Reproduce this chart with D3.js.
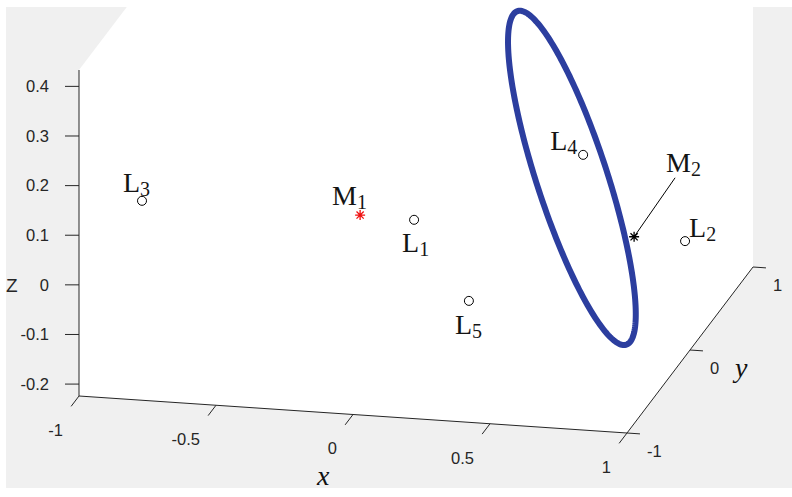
<!DOCTYPE html>
<html><head><meta charset="utf-8">
<script src="https://cdn.jsdelivr.net/npm/d3@7"></script>
<style>html,body{margin:0;padding:0;background:#fff;} svg{display:block}</style>
</head><body>
<svg id="chart" width="792" height="497"></svg>
<script>
// ---------------- data ----------------
const xLimits = [-1, 1];
const yLimits = [-1, 1];
const zLimits = [-0.224, 0.433];
const xTicks = [-1, -0.5, 0, 0.5, 1];
const xTickLabels = ["-1", "-0.5", "0", "0.5", "1"];
const yTicks = [-1, 0, 1];
const yTickLabels = ["-1", "0", "1"];
const zTicks = [-0.2, -0.1, 0, 0.1, 0.2, 0.3, 0.4];
const zTickLabels = ["-0.2", "-0.1", "0", "0.1", "0.2", "0.3", "0.4"];

const pointNames = ["L1", "L2", "L3", "L4", "L5", "M1", "M2"];
const pointX = [0.039, 0.913, -0.885, 0.541, 0.354, -0.089, 0.773];
const pointY = [-0.2, 0.3, -0.5, 0.3, -0.7, -0.5, 0.1];
const pointZ = [0.036, -0.058, 0.090, 0.102, -0.032, 0.091, -0.021];
const pointType = ["landmark", "landmark", "landmark", "landmark", "landmark", "mic1", "mic2"];

const ellipseCenter = [0.500, 0.300, 0.054];
const ellipseAxisA = [0.259, -0.300, -0.277];
const ellipseAxisB = [0.1285, 0.0286, 0.0];

// ---------------- layout / style ----------------
const W = 792, H = 497;
const origin = [79, 396];
const ex = [548, 37], ey = [126, -166], ez = [0, -326];
const axisColor = "#262626";
const labelOffsets = {
  L1: [-12, 32], L2: [4, -4], L3: [-19, -9], L4: [-33, -5],
  L5: [-14, 33], M1: [-28, -10], M2: [32, -65]
};
const leaderOffset = [41, -59];

const sx = d3.scaleLinear().domain(xLimits).range([0, 1]);
const sy = d3.scaleLinear().domain(yLimits).range([0, 1]);
const sz = d3.scaleLinear().domain(zLimits).range([0, 1]);
function P(x, y, z) {
  const u = sx(x), v = sy(y), w = sz(z);
  return [origin[0] + u * ex[0] + v * ey[0] + w * ez[0],
          origin[1] + u * ex[1] + v * ey[1] + w * ez[1]];
}

const svg = d3.select("#chart");
svg.append("rect").attr("width", W).attr("height", H).attr("fill", "#fff");
svg.append("defs").append("clipPath").attr("id", "fig")
  .append("rect").attr("x", 6).attr("y", 7).attr("width", W - 6).attr("height", 481);
svg.append("rect").attr("x", 6).attr("y", 7).attr("width", W - 6).attr("height", 481).attr("fill", "#f0f0f0");

// white box hull
const [x0, x1] = xLimits, [y0, y1] = yLimits, [z0, z1] = zLimits;
const hull = [P(x0, y0, z0), P(x1, y0, z0), P(x1, y1, z0), P(x1, y1, z1), P(x0, y1, z1), P(x0, y0, z1)];
svg.append("polygon").attr("clip-path", "url(#fig)")
  .attr("points", hull.map(p => p.join(",")).join(" "))
  .attr("fill", "#ffffff");

const g = svg.append("g");
function seg(a, b, color, w) {
  g.append("line").attr("x1", a[0]).attr("y1", a[1]).attr("x2", b[0]).attr("y2", b[1])
    .attr("stroke", color).attr("stroke-width", w);
}
// axis lines
seg(P(x0, y0, z0), P(x1, y0, z0), axisColor, 1);
seg(P(x1, y0, z0), P(x1, y1, z0), axisColor, 1);
seg(P(x0, y0, z0), P(x0, y0, z1), axisColor, 1);

const tickLen = 13;
function unit(v) { const n = Math.hypot(v[0], v[1]); return [v[0] / n, v[1] / n]; }
const dNegY = unit([-ey[0], -ey[1]]);
const dPosX = unit(ex);
const dNegX = [-1, 0];
const tickFont = "'Liberation Sans', Arial, sans-serif";
const tickSize = 16.5;

xTicks.forEach((t, i) => {
  const p = P(t, y0, z0);
  seg(p, [p[0] + dNegY[0] * tickLen, p[1] + dNegY[1] * tickLen], axisColor, 1);
  g.append("text").attr("x", p[0] - 16).attr("y", p[1] + 34).attr("dy", "0.35em")
    .attr("text-anchor", "end").attr("font-family", tickFont).attr("font-size", tickSize)
    .attr("fill", axisColor).text(xTickLabels[i]);
});
yTicks.forEach((t, i) => {
  const p = P(x1, t, z0);
  seg(p, [p[0] + dPosX[0] * tickLen, p[1] + dPosX[1] * tickLen], axisColor, 1);
  g.append("text").attr("x", p[0] + 20).attr("y", p[1] + 18).attr("dy", "0.35em")
    .attr("text-anchor", "start").attr("font-family", tickFont).attr("font-size", tickSize)
    .attr("fill", axisColor).text(yTickLabels[i]);
});
zTicks.forEach((t, i) => {
  const p = P(x0, y0, t);
  seg(p, [p[0] + dNegX[0] * 14, p[1] + dNegX[1] * 14], axisColor, 1);
  g.append("text").attr("x", p[0] - 30).attr("y", p[1]).attr("dy", "0.35em")
    .attr("text-anchor", "end").attr("font-family", tickFont).attr("font-size", tickSize)
    .attr("fill", axisColor).text(zTickLabels[i]);
});

// axis labels
const pz = P(x0, y0, 0);
g.append("text").attr("x", pz[0] - 73).attr("y", pz[1] + 7).attr("font-family", tickFont)
  .attr("font-size", 19).attr("fill", axisColor).text("Z");
const px = P(0, y0, z0);
g.append("text").attr("x", px[0] - 36).attr("y", px[1] + 70).attr("font-family", "'Liberation Serif', 'Times New Roman', serif")
  .attr("font-style", "italic").attr("font-size", 28).attr("fill", "#111").text("x");
const py = P(x1, 0, z0);
g.append("text").attr("x", py[0] + 45).attr("y", py[1] + 27).attr("font-family", "'Liberation Serif', 'Times New Roman', serif")
  .attr("font-style", "italic").attr("font-size", 28).attr("fill", "#111").text("y");

// ellipse
const N = 240;
const ellPts = d3.range(N).map(k => {
  const t = 2 * Math.PI * k / N, c = Math.cos(t), s = Math.sin(t);
  return P(ellipseCenter[0] + ellipseAxisA[0] * c + ellipseAxisB[0] * s,
           ellipseCenter[1] + ellipseAxisA[1] * c + ellipseAxisB[1] * s,
           ellipseCenter[2] + ellipseAxisA[2] * c + ellipseAxisB[2] * s);
});
g.append("path").attr("d", d3.line().curve(d3.curveLinearClosed)(ellPts))
  .attr("fill", "none").attr("stroke", "#2c3e9f").attr("stroke-width", 6);

// markers and labels
const serif = "'Liberation Serif', 'Times New Roman', serif";
pointNames.forEach((name, i) => {
  const p = P(pointX[i], pointY[i], pointZ[i]);
  const type = pointType[i];
  if (type === "landmark") {
    g.append("circle").attr("cx", p[0]).attr("cy", p[1]).attr("r", 4.5)
      .attr("fill", "none").attr("stroke", "#000").attr("stroke-width", 1);
  } else {
    const col = type === "mic1" ? "#f01010" : "#000";
    const s = 5, d = 3.6;
    g.append("path").attr("transform", `translate(${p[0]},${p[1]})`)
      .attr("d", `M${-s},0H${s}M0,${-s}V${s}M${-d},${-d}L${d},${d}M${-d},${d}L${d},${-d}`)
      .attr("stroke", col).attr("stroke-width", 1.3).attr("fill", "none");
  }
  if (name === "M2") {
    seg(p, [p[0] + leaderOffset[0], p[1] + leaderOffset[1]], "#000", 1);
  }
  const off = labelOffsets[name];
  const t = g.append("text").attr("x", p[0] + off[0]).attr("y", p[1] + off[1])
    .attr("font-family", serif).attr("font-size", 28).attr("fill", "#141414");
  t.append("tspan").text(name[0]);
  t.append("tspan").attr("font-size", 20).attr("dy", 4).text(name.slice(1));
});
</script>
</body></html>
